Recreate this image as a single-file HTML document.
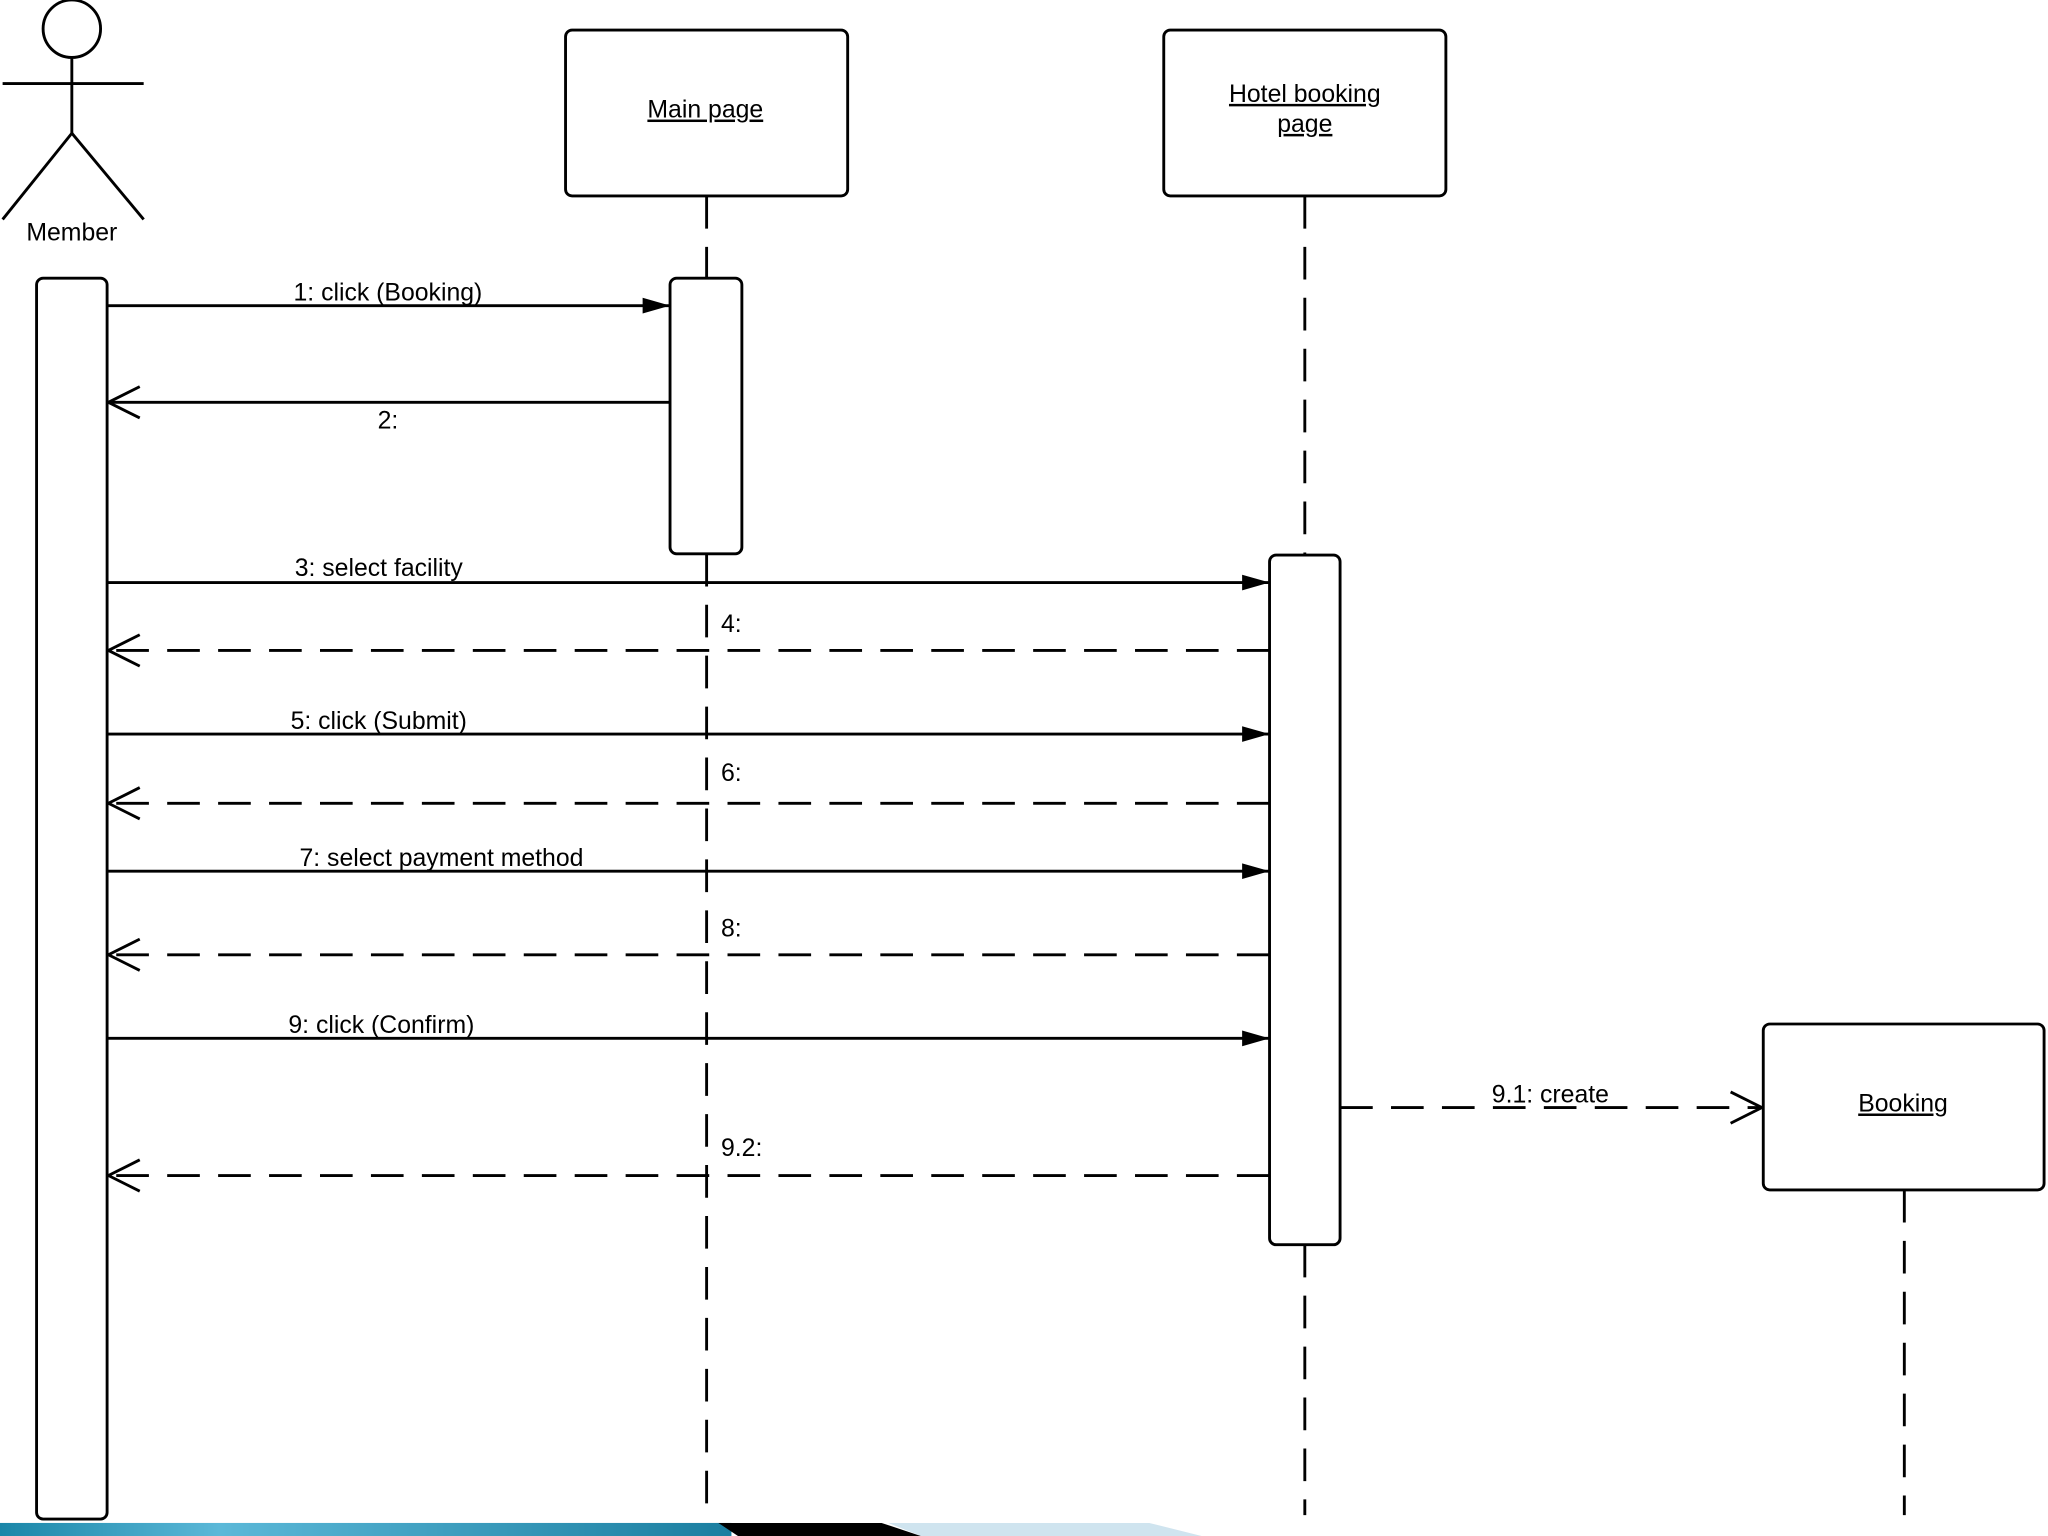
<!DOCTYPE html>
<html><head><meta charset="utf-8"><style>html,body{margin:0;padding:0;background:#fff}svg{display:block}</style></head>
<body>
<svg width="2048" height="1536" viewBox="0 0 1568 1176" xmlns="http://www.w3.org/2000/svg" font-family="Liberation Sans, sans-serif" font-size="19" fill="none" stroke="#000" stroke-width="2.2">
<defs>
<marker id="f" markerWidth="22" markerHeight="14" refX="21" refY="7" orient="auto" markerUnits="userSpaceOnUse"><path d="M0,1 L21,7 L0,13 Z" fill="#000" stroke="none"/></marker>
<marker id="o" markerWidth="26" markerHeight="28" refX="25" refY="14" orient="auto" markerUnits="userSpaceOnUse"><path d="M1,2 L25,14 L1,26" fill="none" stroke="#000" stroke-width="2.2"/></marker>
<linearGradient id="bg" x1="0" x2="1"><stop offset="0" stop-color="#1a86a8"/><stop offset="0.3" stop-color="#5bb8d8"/><stop offset="1" stop-color="#1a7ea0"/></linearGradient>
</defs>
<!-- actor -->
<circle cx="55" cy="22" r="22"/>
<line x1="55" y1="44" x2="55" y2="102"/>
<line x1="2" y1="64" x2="110" y2="64"/>
<line x1="55" y1="102" x2="2" y2="168"/>
<line x1="55" y1="102" x2="110" y2="168"/>
<text x="55" y="184" text-anchor="middle" fill="#000" stroke="none">Member</text>
<!-- boxes -->
<rect x="433" y="23" width="216" height="127" rx="5"/>
<text x="540" y="90" text-anchor="middle" fill="#000" stroke="none" text-decoration="underline">Main page</text>
<rect x="891" y="23" width="216" height="127" rx="5"/>
<text x="999" y="78" text-anchor="middle" fill="#000" stroke="none" text-decoration="underline">Hotel booking</text>
<text x="999" y="101" text-anchor="middle" fill="#000" stroke="none" text-decoration="underline">page</text>
<rect x="1350" y="784" width="215" height="127" rx="5"/>
<text x="1457" y="851" text-anchor="middle" fill="#000" stroke="none" text-decoration="underline">Booking</text>
<!-- lifelines -->
<g stroke-dasharray="25 14">
<line x1="541" y1="150" x2="541" y2="213"/>
<line x1="541" y1="424" x2="541" y2="1160"/>
<line x1="999" y1="150" x2="999" y2="425"/>
<line x1="999" y1="953" x2="999" y2="1160"/>
<line x1="1458" y1="911" x2="1458" y2="1160"/>
</g>
<!-- activations -->
<rect x="28" y="213" width="54" height="950" rx="5" fill="#fff"/>
<rect x="513" y="213" width="55" height="211" rx="5" fill="#fff"/>
<rect x="972" y="425" width="54" height="528" rx="5" fill="#fff"/>
<!-- messages -->
<line x1="82" y1="234" x2="513" y2="234" marker-end="url(#f)"/>
<line x1="513" y1="308" x2="83" y2="308" marker-end="url(#o)"/>
<line x1="82" y1="446" x2="972" y2="446" marker-end="url(#f)"/>
<line x1="972" y1="498" x2="83" y2="498" marker-end="url(#o)" stroke-dasharray="25 14"/>
<line x1="82" y1="562" x2="972" y2="562" marker-end="url(#f)"/>
<line x1="972" y1="615" x2="83" y2="615" marker-end="url(#o)" stroke-dasharray="25 14"/>
<line x1="82" y1="667" x2="972" y2="667" marker-end="url(#f)"/>
<line x1="972" y1="731" x2="83" y2="731" marker-end="url(#o)" stroke-dasharray="25 14"/>
<line x1="82" y1="795" x2="972" y2="795" marker-end="url(#f)"/>
<line x1="1026" y1="848" x2="1349" y2="848" marker-end="url(#o)" stroke-dasharray="25 14"/>
<line x1="972" y1="900" x2="83" y2="900" marker-end="url(#o)" stroke-dasharray="25 14"/>
<g fill="#000" stroke="none">
<text x="297" y="230" text-anchor="middle">1: click (Booking)</text>
<text x="297" y="328" text-anchor="middle">2:</text>
<text x="290" y="441" text-anchor="middle">3: select facility</text>
<text x="552" y="484">4:</text>
<text x="290" y="558" text-anchor="middle">5: click (Submit)</text>
<text x="552" y="598">6:</text>
<text x="338" y="663" text-anchor="middle">7: select payment method</text>
<text x="552" y="717">8:</text>
<text x="292" y="791" text-anchor="middle">9: click (Confirm)</text>
<text x="1187" y="844" text-anchor="middle">9.1: create</text>
<text x="552" y="885">9.2:</text>
</g>
<!-- bottom strip -->
<g stroke="none">
<rect x="0" y="1166" width="560" height="10" fill="url(#bg)"/>
<polygon points="680,1166 880,1166 920,1176 705,1176" fill="#cfe4ef"/>
<polygon points="550,1166 675,1166 705,1176 565,1176" fill="#000"/>
</g>
</svg>
</body></html>
